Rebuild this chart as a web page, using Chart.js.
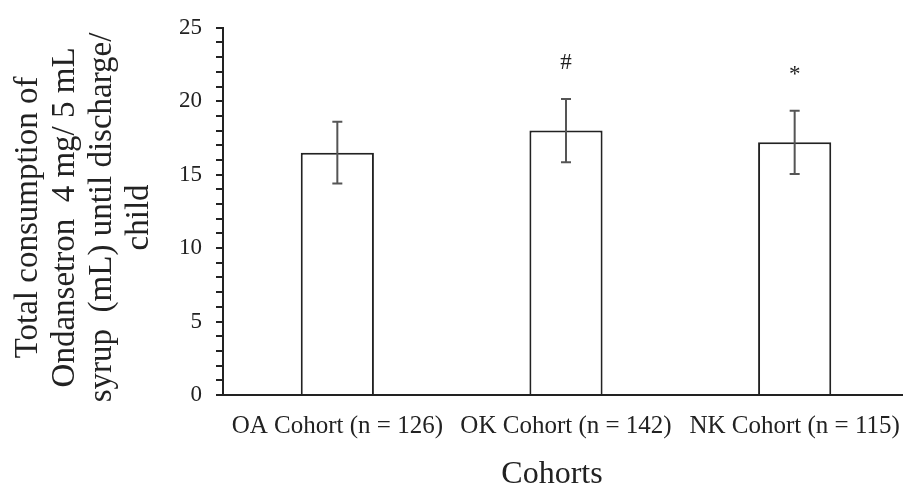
<!DOCTYPE html>
<html>
<head>
<meta charset="utf-8">
<script src="https://cdn.jsdelivr.net/npm/chart.js@4.4.0/dist/chart.umd.min.js"></script>
<style>
  html, body { margin: 0; padding: 0; background: #fff; overflow: hidden; }
  #wrap { width: 912px; height: 485px; position: relative; }
</style>
</head>
<body>
<div id="wrap"><canvas id="ondansetronChart"></canvas></div>
<script>
// values
const cohorts = ['OA Cohort (n = 126)', 'OK Cohort (n = 142)', 'NK Cohort (n = 115)'];
const meanConsumption = [16.5, 18.0, 17.2];
const errorSize = [2.1, 2.15, 2.15];
const markers = ['', '#', '*'];
const yTickLabels = [0, 5, 10, 15, 20, 25];
const yTitleLines = ['Total consumption of', 'Ondansetron  4 mg/ 5 mL', 'syrup  (mL) until discharge/', 'child'];

const serif = '"Liberation Serif", "Times New Roman", serif';

// error bars + significance marks
const errorBarPlugin = {
  id: 'errorBars',
  afterDatasetsDraw(chart) {
    const { ctx, scales: { y } } = chart;
    const meta = chart.getDatasetMeta(0);
    ctx.save();
    meta.data.forEach((bar, i) => {
      const x = bar.x;
      const top = y.getPixelForValue(meanConsumption[i] + errorSize[i]);
      const bottom = y.getPixelForValue(meanConsumption[i] - errorSize[i]);
      ctx.strokeStyle = '#555';
      ctx.lineWidth = 2;
      ctx.beginPath();
      ctx.moveTo(x, top); ctx.lineTo(x, bottom);
      ctx.moveTo(x - 5, top); ctx.lineTo(x + 5, top);
      ctx.moveTo(x - 5, bottom); ctx.lineTo(x + 5, bottom);
      ctx.stroke();
      if (markers[i]) {
        ctx.fillStyle = '#222';
        ctx.font = '23px ' + serif;
        ctx.textAlign = 'center';
        ctx.textBaseline = 'alphabetic';
        ctx.fillText(markers[i], x, top - 30);
      }
    });
    ctx.restore();
  }
};

// axis titles drawn by hand so they sit where the original has them
const axisTitlePlugin = {
  id: 'axisTitles',
  afterDraw(chart) {
    const { ctx, chartArea } = chart;
    ctx.save();
    ctx.fillStyle = '#222';
    ctx.textAlign = 'center';
    ctx.textBaseline = 'alphabetic';
    ctx.font = '32px ' + serif;
    ctx.fillText('Cohorts', (chartArea.left + chartArea.right) / 2 - 14, 483);

    ctx.font = '33px ' + serif;
    const cy = (chartArea.top + chartArea.bottom) / 2 + 6;
    ctx.translate(0, cy);
    ctx.rotate(-Math.PI / 2);
    yTitleLines.forEach((line, i) => {
      ctx.fillText(line, 0, 37 + i * 37);
    });
    ctx.restore();
  }
};

new Chart(document.getElementById('ondansetronChart'), {
  type: 'bar',
  data: {
    labels: cohorts,
    datasets: [{
      data: meanConsumption,
      backgroundColor: '#fff',
      borderColor: '#222',
      borderWidth: 2,
      borderSkipped: 'bottom',
      barPercentage: 0.32,
      categoryPercentage: 1
    }]
  },
  options: {
    responsive: true,
    maintainAspectRatio: false,
    animation: false,
    layout: { padding: { top: 21, right: 3, left: 0, bottom: 0 } },
    plugins: { legend: { display: false }, tooltip: { enabled: false } },
    scales: {
      x: {
        grid: { display: false },
        border: { display: true, color: '#222', width: 2 },
        ticks: { color: '#222', font: { family: serif, size: 25 }, padding: 8, maxRotation: 0 },
        afterFit(scale) { scale.height = 90; }
      },
      y: {
        min: 0,
        max: 25,
        grid: { display: true, drawOnChartArea: false, drawTicks: true, tickLength: 7, color: '#222', lineWidth: 2 },
        border: { display: true, color: '#222', width: 2 },
        ticks: {
          stepSize: 1,
          autoSkip: false,
          color: '#222',
          padding: 14,
          font: { family: serif, size: 23 },
          callback: v => yTickLabels.includes(v) ? v : ''
        },
        afterFit(scale) { scale.width = 223; }
      }
    }
  },
  plugins: [errorBarPlugin, axisTitlePlugin]
});
</script>
</body>
</html>
